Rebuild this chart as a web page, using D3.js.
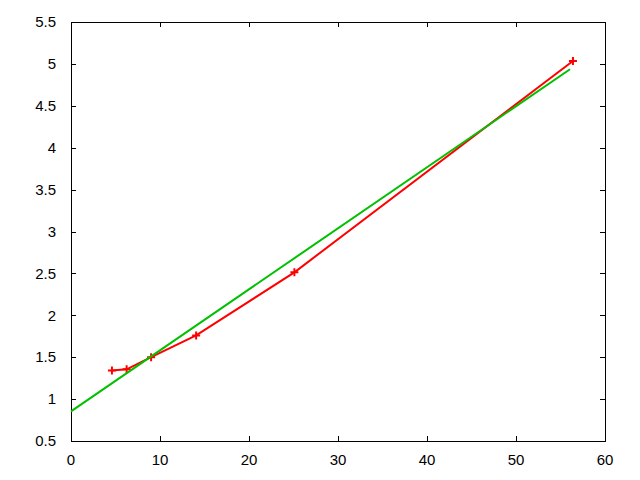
<!DOCTYPE html>
<html>
<head>
<meta charset="utf-8">
<script src="https://cdn.jsdelivr.net/npm/d3@7"></script>
<style>
body { margin: 0; background: #fff; }
text { font-family: "Liberation Sans", Arial, sans-serif; font-size: 15px; fill: #000; }
</style>
</head>
<body>
<div id="chart"></div>
<script>
// data
var dataX = [4.6, 6.25, 9, 14.06, 25.1, 56.4];
var dataY = [1.34, 1.355, 1.5, 1.76, 2.513, 5.035];
var fitX = [0, 56.07];
var fitY = [0.854, 4.936];
var xTicks = [0, 10, 20, 30, 40, 50, 60];
var yTicks = [0.5, 1, 1.5, 2, 2.5, 3, 3.5, 4, 4.5, 5, 5.5];

var svgWidth = 640;
var svgHeight = 480;
var margin = { top: 22, right: 35, bottom: 39, left: 71 };
var width = svgWidth - margin.left - margin.right;
var height = svgHeight - margin.top - margin.bottom;

var svg = d3.select("#chart")
    .append("svg")
    .attr("width", svgWidth)
    .attr("height", svgHeight);

var chartGroup = svg.append("g").attr("transform", `translate(${margin.left}, ${margin.top})`);

var x = d3.scaleLinear().domain([0, 60]).range([0, width]);
var y = d3.scaleLinear().domain([0.5, 5.5]).range([height, 0]);

// border
chartGroup.append("rect")
    .attr("x", 0.5).attr("y", 0.5)
    .attr("width", width).attr("height", height)
    .attr("fill", "none").attr("stroke", "#000");

// ticks, inward and mirrored like gnuplot
var tickLen = 5;
function crisp(v) { return Math.round(v) + 0.5; }

xTicks.forEach(function(t) {
    var px = crisp(x(t));
    chartGroup.append("line").attr("x1", px).attr("x2", px)
        .attr("y1", height).attr("y2", height - tickLen).attr("stroke", "#000");
    chartGroup.append("line").attr("x1", px).attr("x2", px)
        .attr("y1", 0).attr("y2", tickLen).attr("stroke", "#000");
    chartGroup.append("text")
        .attr("x", x(t)).attr("y", height + 24)
        .attr("text-anchor", "middle")
        .text(t);
});

yTicks.forEach(function(t) {
    var py = crisp(y(t));
    chartGroup.append("line").attr("x1", 0).attr("x2", tickLen)
        .attr("y1", py).attr("y2", py).attr("stroke", "#000");
    chartGroup.append("line").attr("x1", width).attr("x2", width - tickLen)
        .attr("y1", py).attr("y2", py).attr("stroke", "#000");
    chartGroup.append("text")
        .attr("x", -15).attr("y", y(t))
        .attr("dy", "0.35em")
        .attr("text-anchor", "end")
        .text(t);
});

var line = d3.line()
    .x(d => x(d[0]))
    .y(d => y(d[1]));

var points = dataX.map((v, i) => [v, dataY[i]]);
var fitPoints = fitX.map((v, i) => [v, fitY[i]]);

// data line
chartGroup.append("path")
    .datum(points)
    .attr("d", line)
    .attr("fill", "none")
    .attr("stroke", "#ff0000")
    .attr("stroke-width", 2);

// markers
chartGroup.selectAll(".mark")
    .data(points)
    .enter()
    .append("path")
    .attr("class", "mark")
    .attr("d", d => {
        var cx = x(d[0]), cy = y(d[1]);
        return `M${cx - 4},${cy}H${cx + 4}M${cx},${cy - 4}V${cy + 4}`;
    })
    .attr("stroke", "#ff0000")
    .attr("stroke-width", 2);

// fit line
chartGroup.append("path")
    .datum(fitPoints)
    .attr("d", line)
    .attr("fill", "none")
    .attr("stroke", "#00c000")
    .attr("stroke-width", 2);
</script>
</body>
</html>
